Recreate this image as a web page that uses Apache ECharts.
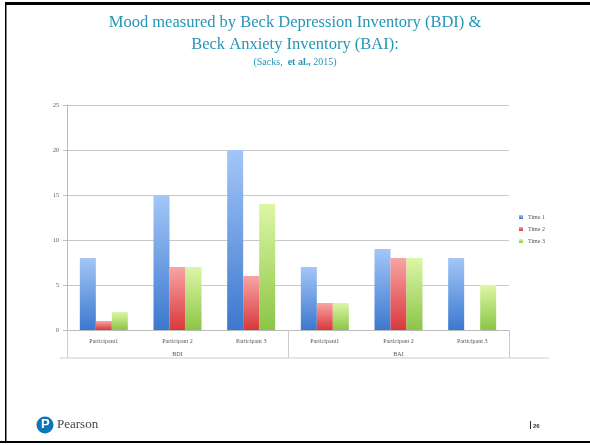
<!DOCTYPE html>
<html>
<head>
<meta charset="utf-8">
<script src="https://cdn.jsdelivr.net/npm/echarts@6/dist/echarts.min.js"></script>
<style>
  html, body { margin: 0; padding: 0; background: #fff; }
  #chart { width: 590px; height: 445px; }
</style>
</head>
<body>
<div id="chart"></div>
<script>
// categories (two-level x axis)
var participants = ['Participant1', 'Participant 2', 'Participant 3', 'Participant1', 'Participant 2', 'Participant 3'];
var groups = ['BDI', 'BAI'];
var seriesNames = ['Time 1', 'Time 2', 'Time 3'];

// scores (BDI x3 then BAI x3)
var time1 = [8, 15, 20, 7, 9, 8];
var time2 = [1, 7, 6, 3, 8, null];
var time3 = [2, 7, 14, 3, 8, 5];

var yTicks = [0, 5, 10, 15, 20, 25];

// top/bottom colors of the bar gradients
var fills = [
  ['#a3c6f7', '#3c78cf'],
  ['#f8a4a4', '#d8393b'],
  ['#dcf7a6', '#8cc545']
];

function grad(c) {
  return { type: 'linear', x: 0, y: 0, x2: 0, y2: 1,
    colorStops: [{ offset: 0, color: c[0] }, { offset: 1, color: c[1] }] };
}

var allData = [time1, time2, time3];
var series = allData.map(function (d, i) {
  return {
    name: seriesNames[i],
    type: 'bar',
    data: d,
    barWidth: 16,
    barGap: '0%',
    itemStyle: { color: grad(fills[i]) }
  };
});

var tiny = { fontFamily: 'Liberation Serif', fontSize: 6, color: '#555' };

var option = {
  animation: false,
  backgroundColor: '#fff',
  color: ['#4f8ee0', '#e05050', '#a8d860'],
  grid: { left: 67, right: 81, top: 105, bottom: 115 },
  legend: {
    orient: 'vertical',
    left: 514,
    top: 209,
    icon: 'rect',
    itemWidth: 4,
    itemHeight: 4,
    itemGap: 6,
    textStyle: tiny,
    data: seriesNames
  },
  xAxis: [{
    type: 'category',
    data: participants,
    axisLine: { lineStyle: { color: '#bbb' } },
    axisTick: { show: false },
    axisLabel: Object.assign({ margin: 8, interval: 0 }, tiny)
  }, {
    type: 'category',
    data: groups,
    position: 'bottom',
    axisLine: { show: false },
    axisTick: { show: true, length: 28, lineStyle: { color: '#ccc' } },
    axisLabel: Object.assign({ margin: 21, interval: 0 }, tiny)
  }],
  yAxis: {
    type: 'value',
    min: 0,
    max: 25,
    interval: 5,
    axisLine: { show: true, lineStyle: { color: '#bbb' } },
    axisTick: { show: true, length: 4, lineStyle: { color: '#bbb' } },
    splitLine: { lineStyle: { color: '#c8c8c8' } },
    axisLabel: Object.assign({ margin: 8, formatter: function (v) {
      return yTicks.indexOf(v) > -1 ? String(v) : '';
    } }, tiny)
  },
  series: series,
  graphic: [
    // slide frame
    { type: 'rect', shape: { x: 5, y: 2, width: 590, height: 3 }, style: { fill: '#000' } },
    { type: 'rect', shape: { x: 5, y: 2, width: 1.5, height: 441 }, style: { fill: '#000' } },
    { type: 'rect', shape: { x: 0, y: 441, width: 590, height: 2 }, style: { fill: '#000' } },
    // line closing the category box
    { type: 'line', shape: { x1: 60, y1: 358, x2: 549, y2: 358 }, style: { stroke: '#ccc', lineWidth: 1 } },
    // title
    { type: 'text', left: 'center', top: 14,
      style: { text: 'Mood measured by Beck Depression Inventory (BDI) &', font: '16.5px "Liberation Serif"', fill: '#2396b6' } },
    { type: 'text', left: 'center', top: 36,
      style: { text: 'Beck Anxiety Inventory (BAI):', font: '16.5px "Liberation Serif"', fill: '#2396b6' } },
    { type: 'text', left: 'center', top: 57,
      style: { text: '{n|(Sacks,  }{b|et al.,}{n| 2015)}', fill: '#2396b6',
        rich: {
          n: { font: '10px "Liberation Serif"', fill: '#2396b6' },
          b: { font: 'bold 10px "Liberation Serif"', fill: '#2396b6' }
        } } },
    // footer logo
    { type: 'circle', shape: { cx: 45, cy: 425, r: 8.5 }, style: { fill: '#0d76b8' } },
    { type: 'text', x: 41, y: 418, style: { text: 'P', font: 'bold 13px "Liberation Sans"', fill: '#fff' } },
    { type: 'text', x: 57, y: 418, style: { text: 'Pearson', font: '13px "Liberation Serif"', fill: '#444' } },
    // page number
    { type: 'rect', shape: { x: 530, y: 421, width: 1, height: 8 }, style: { fill: '#333' } },
    { type: 'text', x: 533, y: 423, style: { text: '26', font: 'bold 6px "Liberation Sans"', fill: '#333' } }
  ]
};

var myChart = echarts.init(document.getElementById('chart'));
myChart.setOption(option);
</script>
</body>
</html>
